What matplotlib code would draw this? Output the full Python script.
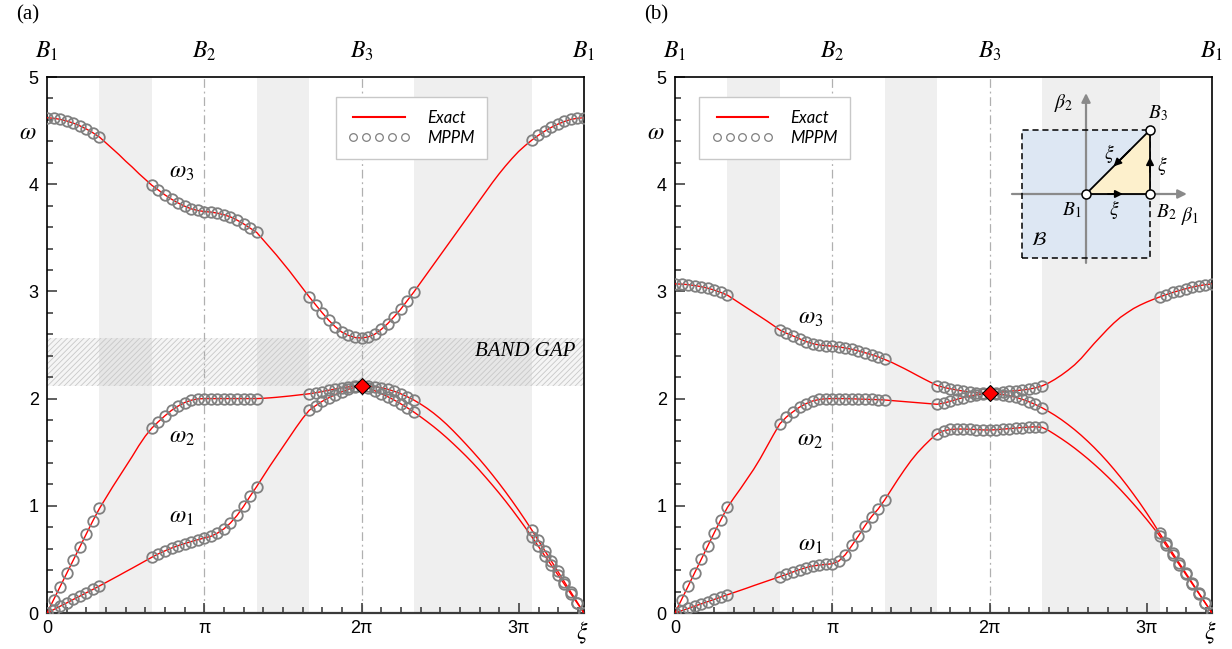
import numpy as np
import matplotlib
matplotlib.use("Agg")
import matplotlib.pyplot as plt
from matplotlib.lines import Line2D
from matplotlib.patches import Rectangle, Polygon
from matplotlib.transforms import blended_transform_factory

plt.rcParams['font.family'] = ['Liberation Sans', 'DejaVu Sans']
plt.rcParams['mathtext.fontset'] = 'stix'
plt.rcParams['hatch.linewidth'] = 0.6

PI = np.pi
XI_END = 2 * PI + np.sqrt(2) * PI

# path B1 -> B2 (24 steps), B2 -> B3 (24 steps), B3 -> B1 (34 steps)
xi = np.concatenate([np.linspace(0, PI, 25),
                     np.linspace(PI, 2 * PI, 25)[1:],
                     np.linspace(2 * PI, XI_END, 35)[1:]])

# ---- panel (a) ----
w3_a = [4.62, 4.615, 4.605, 4.59, 4.57, 4.545, 4.515, 4.48, 4.44, 4.385, 4.33, 4.275, 4.215,
        4.16, 4.10, 4.045, 3.99, 3.945, 3.90, 3.86, 3.825, 3.795, 3.77, 3.755, 3.745,
        3.74, 3.73, 3.715, 3.695, 3.665, 3.63, 3.59, 3.55, 3.48, 3.41, 3.34, 3.265,
        3.19, 3.11, 3.03, 2.95, 2.875, 2.80, 2.73, 2.67, 2.62, 2.59, 2.57, 2.565,
        2.575, 2.60, 2.645, 2.70, 2.765, 2.835, 2.915, 2.995, 3.08, 3.165, 3.25, 3.335,
        3.42, 3.505, 3.59, 3.675, 3.76, 3.845, 3.93, 4.015, 4.095, 4.17, 4.24, 4.305,
        4.36, 4.41, 4.455, 4.495, 4.53, 4.56, 4.585, 4.605, 4.615, 4.62]
w2_a = [0.0, 0.123, 0.246, 0.369, 0.492, 0.615, 0.738, 0.86, 0.975, 1.075, 1.175, 1.27, 1.365,
        1.46, 1.56, 1.65, 1.725, 1.785, 1.84, 1.89, 1.93, 1.963, 1.985, 1.997, 2.0,
        2.0, 2.0, 2.0, 2.0, 2.0, 2.0, 2.0, 2.0, 2.003, 2.007, 2.012, 2.018,
        2.024, 2.031, 2.038, 2.045, 2.055, 2.066, 2.078, 2.09, 2.101, 2.11, 2.116, 2.12,
        2.118, 2.112, 2.101, 2.087, 2.068, 2.045, 2.017, 1.986, 1.95, 1.91, 1.865, 1.815,
        1.76, 1.70, 1.637, 1.572, 1.505, 1.436, 1.364, 1.289, 1.211, 1.13, 1.046, 0.959,
        0.869, 0.776, 0.679, 0.582, 0.485, 0.388, 0.291, 0.194, 0.097, 0.0]
w1_a = [0.0, 0.031, 0.063, 0.094, 0.126, 0.157, 0.189, 0.22, 0.252, 0.285, 0.318, 0.351, 0.385,
        0.418, 0.452, 0.486, 0.52, 0.552, 0.58, 0.606, 0.628, 0.648, 0.666, 0.683, 0.70,
        0.715, 0.745, 0.785, 0.84, 0.91, 0.995, 1.09, 1.18, 1.275, 1.37, 1.46, 1.55,
        1.64, 1.73, 1.815, 1.89, 1.935, 1.975, 2.008, 2.038, 2.064, 2.087, 2.106, 2.12,
        2.098, 2.074, 2.047, 2.018, 1.986, 1.951, 1.914, 1.874, 1.831, 1.786, 1.739, 1.689,
        1.636, 1.58, 1.522, 1.462, 1.399, 1.333, 1.264, 1.193, 1.12, 1.044, 0.965, 0.883,
        0.799, 0.713, 0.624, 0.535, 0.446, 0.357, 0.268, 0.178, 0.089, 0.0]

# ---- panel (b) ----
w3_b = [3.07, 3.068, 3.063, 3.055, 3.044, 3.03, 3.012, 2.99, 2.965, 2.925, 2.885, 2.845, 2.805,
        2.765, 2.725, 2.683, 2.64, 2.61, 2.585, 2.558, 2.532, 2.513, 2.50, 2.494, 2.49,
        2.482, 2.472, 2.46, 2.445, 2.428, 2.41, 2.39, 2.365, 2.34, 2.31, 2.28, 2.248,
        2.215, 2.183, 2.152, 2.122, 2.105, 2.092, 2.08, 2.07, 2.062, 2.056, 2.052, 2.05,
        2.055, 2.062, 2.068, 2.074, 2.08, 2.088, 2.10, 2.118, 2.145, 2.18, 2.22, 2.265,
        2.315, 2.375, 2.445, 2.515, 2.58, 2.645, 2.705, 2.758, 2.80, 2.84, 2.872, 2.90,
        2.925, 2.948, 2.97, 2.99, 3.008, 3.025, 3.04, 3.053, 3.063, 3.07]
w2_b = [0.0, 0.125, 0.25, 0.375, 0.50, 0.625, 0.75, 0.87, 0.985, 1.075, 1.16, 1.25, 1.34,
        1.44, 1.55, 1.66, 1.765, 1.828, 1.877, 1.92, 1.953, 1.978, 1.992, 1.999, 2.0,
        2.0, 2.0, 1.998, 1.996, 1.994, 1.992, 1.99, 1.987, 1.982, 1.977, 1.972, 1.967,
        1.962, 1.957, 1.952, 1.947, 1.958, 1.975, 1.993, 2.01, 2.024, 2.035, 2.043, 2.05,
        2.046, 2.038, 2.027, 2.012, 1.993, 1.971, 1.945, 1.915, 1.881, 1.844, 1.803, 1.758,
        1.71, 1.658, 1.602, 1.543, 1.48, 1.413, 1.342, 1.268, 1.19, 1.108, 1.023, 0.934,
        0.841, 0.744, 0.651, 0.558, 0.465, 0.372, 0.279, 0.186, 0.093, 0.0]
w1_b = [0.0, 0.021, 0.042, 0.064, 0.085, 0.106, 0.127, 0.149, 0.17, 0.191, 0.212, 0.233, 0.255,
        0.276, 0.297, 0.318, 0.339, 0.36, 0.383, 0.404, 0.424, 0.438, 0.447, 0.453, 0.46,
        0.485, 0.545, 0.63, 0.72, 0.815, 0.9, 0.97, 1.055, 1.15, 1.245, 1.335, 1.42,
        1.495, 1.56, 1.62, 1.672, 1.70, 1.712, 1.716, 1.716, 1.714, 1.711, 1.708, 1.707,
        1.71, 1.715, 1.72, 1.725, 1.73, 1.734, 1.737, 1.732, 1.703, 1.665, 1.625, 1.583,
        1.538, 1.49, 1.44, 1.387, 1.332, 1.274, 1.214, 1.151, 1.085, 1.017, 0.947, 0.874,
        0.798, 0.72, 0.63, 0.54, 0.45, 0.36, 0.27, 0.18, 0.09, 0.0]

degenerate_w = [2.12, 2.05]     # red diamond at B3
gap_a = [2.12, 2.565]           # band gap in (a)

xtick_labels = ['0', 'π', '2π', '3π']
top_labels = [r'$B_1$', r'$B_2$', r'$B_3$', r'$B_1$']

# MPPM points sit within pi/3 of a high-symmetry point
sym = np.array([0, PI, 2 * PI, XI_END])
near = np.min(np.abs(xi[:, None] - sym[None, :]), axis=1) <= PI / 3 + 1e-6
strips = [(PI / 3, 2 * PI / 3), (4 * PI / 3, 5 * PI / 3), (7 * PI / 3, XI_END - PI / 3)]

W, H = 1232, 649
fig = plt.figure(figsize=(W / 100, H / 100), dpi=100)
ax_a = fig.add_axes([47 / W, 1 - 613 / H, 537 / W, 536 / H])
ax_b = fig.add_axes([675 / W, 1 - 613 / H, 537 / W, 536 / H])


def draw_panel(ax, bands, w_deg, labels_pos):
    for lo, hi in strips:
        ax.axvspan(lo, hi, color='#efefef', lw=0, zorder=0)
    for xv in (PI, 2 * PI):
        ax.axvline(xv, color='#b0b0b0', lw=0.9, ls=(0, (7, 3, 1.5, 3)), zorder=1)
    for w in bands:
        w = np.asarray(w)
        ax.plot(xi, w, color='red', lw=1.0, zorder=3)
        ax.plot(xi[near], w[near], ls='none', marker='o', ms=7.6, mfc='none',
                mec='#808080', mew=1.3, zorder=4)
    ax.plot(2 * PI, w_deg, marker='D', ms=8, mfc='red', mec='black', mew=0.8,
            ls='none', zorder=5, clip_on=False)
    for (x, y), lab in zip(labels_pos, [r'$\omega_3$', r'$\omega_2$', r'$\omega_1$']):
        ax.text(x, y, lab, fontsize=17, ha='center', va='center')

    ax.set_xlim(0, XI_END)
    ax.set_ylim(0, 5)
    ax.set_xticks([0, PI, 2 * PI, 3 * PI])
    ax.set_xticklabels(xtick_labels)
    ax.set_xticks(np.arange(0, XI_END, PI / 8), minor=True)
    ax.set_yticks(range(6))
    ax.set_yticks(np.arange(0, 5.01, 0.2), minor=True)
    ax.tick_params(which='both', direction='in', top=False, right=False,
                   labelsize=13, width=1.1, color='#333333')
    ax.tick_params(which='major', length=7)
    ax.tick_params(which='minor', length=4.5)
    ax.tick_params(axis='x', pad=5)
    ax.tick_params(axis='y', pad=6)
    for side in ('top', 'right', 'left'):
        ax.spines[side].set_linewidth(1.2)
    ax.spines['bottom'].set_linewidth(1.6)
    ax.spines['bottom'].set_color('#3a3a3a')

    tr = blended_transform_factory(ax.transData, ax.transAxes)
    for xv, lab in zip(sym, top_labels):
        ax.text(xv, 1.047, lab, transform=tr, ha='center', va='center', fontsize=17)
    ax.text(-0.036, 0.896, r'$\omega$', transform=ax.transAxes, ha='center',
            va='center', fontsize=17)
    ax.text(0.997, -0.038, r'$\xi$', transform=ax.transAxes, ha='center',
            va='center', fontsize=17)


def add_legend(ax, x0):
    exact = Line2D([], [], color='red', lw=1.5)
    mppm = Line2D([], [], ls='none', marker='o', ms=5.5, mfc='none', mec='#808080', mew=0.9)
    leg = ax.legend([exact, mppm], ['Exact', 'MPPM'], numpoints=5, handlelength=3.7,
                    loc='upper left', bbox_to_anchor=(x0, 0.962), borderaxespad=0,
                    fancybox=False, edgecolor='#c8c8c8', framealpha=1,
                    prop=dict(family='Lato', style='italic', size=12),
                    borderpad=0.75, handletextpad=1.0, labelspacing=0.25)
    leg.get_frame().set_linewidth(1.0)
    leg.set_zorder(6)


draw_panel(ax_a, [w3_a, w2_a, w1_a], degenerate_w[0],
           [(0.857 * PI, 4.11), (0.857 * PI, 1.64), (0.857 * PI, 0.90)])
ax_a.axhspan(gap_a[0], gap_a[1], facecolor=(0.5, 0.5, 0.5, 0.08), edgecolor='#c8c8c8',
             hatch='//////', lw=0, zorder=1)
ax_a.text(3.04 * PI, 2.44, 'BAND GAP', family='Liberation Serif', style='italic',
          fontsize=15, ha='center', va='center', zorder=6)
add_legend(ax_a, 0.538)

draw_panel(ax_b, [w3_b, w2_b, w1_b], degenerate_w[1],
           [(0.86 * PI, 2.75), (0.86 * PI, 1.61), (0.86 * PI, 0.63)])
add_legend(ax_b, 0.045)

fig.text(28 / W, 1 - 15 / H, '(a)', family='Liberation Serif', fontsize=15,
         ha='center', va='center')
fig.text(656 / W, 1 - 15 / H, '(b)', family='Liberation Serif', fontsize=15,
         ha='center', va='center')

# inset: irreducible Brillouin zone path
ins = fig.add_axes([1000 / W, 1 - 270 / H, 210 / W, 185 / H])
ins.set_xlim(-1.344, 1.9375)
ins.set_ylim(-1.1875, 1.703)
ins.axis('off')
ins.patch.set_alpha(0)
ins.add_patch(Rectangle((-1, -1), 2, 2, fc='#dde7f3', ec='none', zorder=1))
ax_arrow = dict(arrowstyle='-|>', color='#8a8a8a', lw=1.6, mutation_scale=13)
ins.annotate('', xy=(1.62, 0), xytext=(-1.2, 0), arrowprops=ax_arrow, zorder=2)
ins.annotate('', xy=(0, 1.62), xytext=(0, -1.12), arrowprops=ax_arrow, zorder=2)
ins.add_patch(Rectangle((-1, -1), 2, 2, fc='none', ec='black', ls=(0, (4, 2.5)),
                        lw=1.1, zorder=3))
ins.add_patch(Polygon([(0, 0), (1, 0), (1, 1)], closed=True, fc='#fdf0cc', ec='black',
                      lw=1.3, zorder=4))
arr = dict(arrowstyle='-|>', color='black', lw=1.3, mutation_scale=11)
ins.annotate('', xy=(0.62, 0), xytext=(0.3, 0), arrowprops=arr, zorder=5)
ins.annotate('', xy=(1, 0.62), xytext=(1, 0.3), arrowprops=arr, zorder=5)
ins.annotate('', xy=(0.4, 0.4), xytext=(0.72, 0.72), arrowprops=arr, zorder=5)
ins.plot([0, 1, 1], [0, 0, 1], ls='none', marker='o', ms=6.5, mfc='white', mec='black',
         mew=1.1, zorder=6)
for x, y, s in [(-0.355, 1.42, r'$\beta_2$'), (1.63, -0.35, r'$\beta_1$'),
                (1.12, 1.26, r'$B_3$'), (-0.22, -0.25, r'$B_1$'), (1.25, -0.28, r'$B_2$'),
                (0.45, -0.25, r'$\xi$'), (1.19, 0.45, r'$\xi$'), (0.37, 0.64, r'$\xi$'),
                (-0.74, -0.72, r'$\mathcal{B}$')]:
    ins.text(x, y, s, fontsize=14, ha='center', va='center', zorder=7)

fig.savefig('out.png', dpi=100)
